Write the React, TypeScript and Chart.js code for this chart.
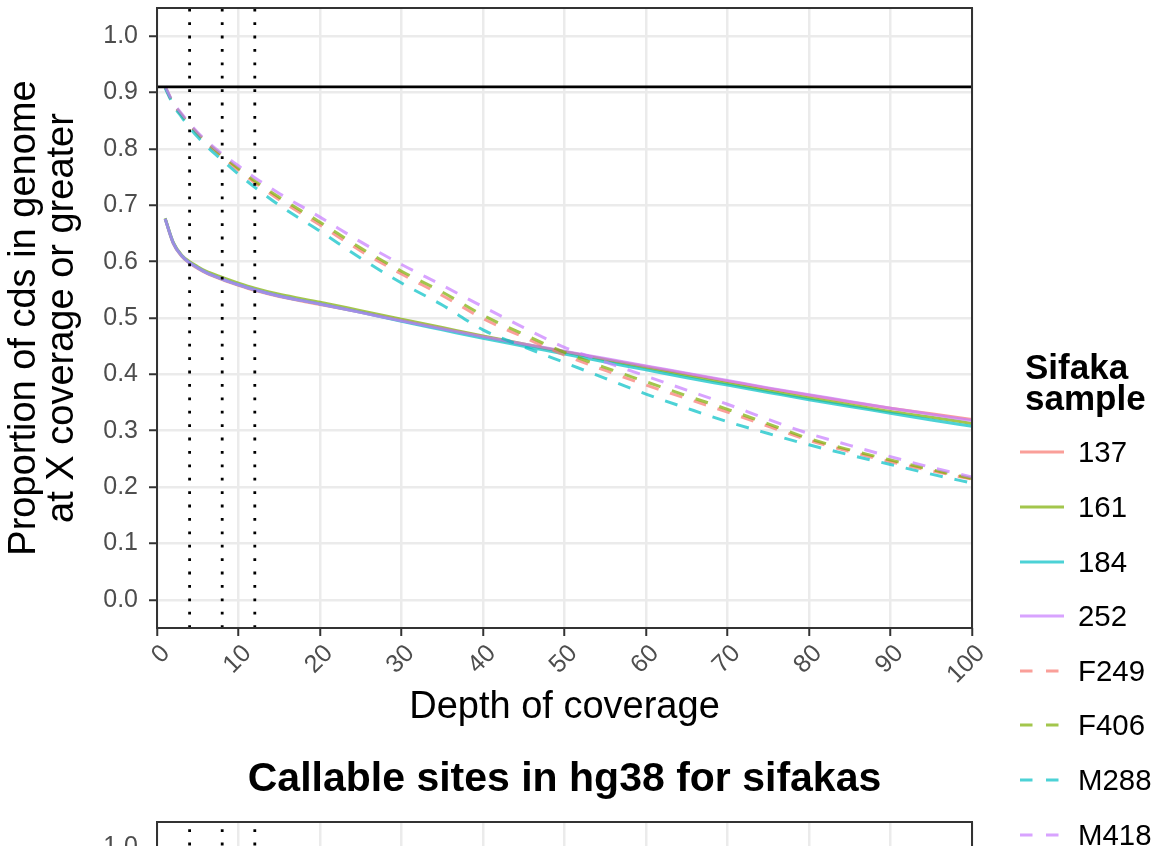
import React, { useEffect, useRef } from "react";
import { Chart, registerables } from "chart.js";

Chart.register(...registerables);

const FONT = "'Liberation Sans', Arial, Helvetica, sans-serif";

// ---- data ----
const depth = [1, 2, 3, 4, 5, 6, 8, 10, 12, 15, 20, 25, 30, 35, 40, 45, 50, 55, 60, 65, 70, 75, 80, 85, 90, 95, 100];

const s137 = [0.676, 0.632, 0.61, 0.597, 0.588, 0.58, 0.568, 0.558, 0.549, 0.538, 0.524, 0.51, 0.495, 0.481, 0.467, 0.453, 0.44, 0.427, 0.414, 0.401, 0.388, 0.375, 0.363, 0.351, 0.34, 0.33, 0.32];
const s161 = [0.677, 0.634, 0.612, 0.6, 0.591, 0.583, 0.572, 0.562, 0.553, 0.542, 0.528, 0.513, 0.498, 0.483, 0.468, 0.454, 0.44, 0.426, 0.412, 0.398, 0.384, 0.371, 0.358, 0.346, 0.334, 0.324, 0.313];
const s184 = [0.676, 0.633, 0.611, 0.598, 0.589, 0.581, 0.569, 0.559, 0.55, 0.539, 0.525, 0.51, 0.494, 0.479, 0.464, 0.45, 0.436, 0.422, 0.408, 0.394, 0.381, 0.368, 0.355, 0.343, 0.331, 0.319, 0.308];
const s252 = [0.676, 0.633, 0.611, 0.598, 0.589, 0.581, 0.569, 0.559, 0.55, 0.539, 0.525, 0.51, 0.495, 0.481, 0.467, 0.454, 0.441, 0.428, 0.415, 0.402, 0.389, 0.376, 0.364, 0.352, 0.34, 0.329, 0.318];
const sF249 = [0.91, 0.88, 0.86, 0.842, 0.826, 0.811, 0.786, 0.762, 0.74, 0.71, 0.665, 0.619, 0.578, 0.54, 0.499, 0.466, 0.434, 0.407, 0.381, 0.357, 0.333, 0.308, 0.283, 0.263, 0.245, 0.229, 0.214];
const sF406 = [0.91, 0.881, 0.861, 0.843, 0.827, 0.813, 0.788, 0.765, 0.743, 0.714, 0.67, 0.624, 0.583, 0.546, 0.505, 0.471, 0.439, 0.412, 0.387, 0.362, 0.338, 0.312, 0.286, 0.266, 0.248, 0.231, 0.215];
const sM288 = [0.908, 0.878, 0.857, 0.838, 0.821, 0.806, 0.78, 0.755, 0.732, 0.7, 0.654, 0.606, 0.562, 0.523, 0.479, 0.449, 0.421, 0.393, 0.365, 0.34, 0.316, 0.295, 0.275, 0.257, 0.24, 0.223, 0.207];
const sM418 = [0.911, 0.882, 0.863, 0.845, 0.829, 0.815, 0.791, 0.77, 0.749, 0.721, 0.679, 0.635, 0.595, 0.558, 0.52, 0.483, 0.448, 0.422, 0.397, 0.372, 0.347, 0.32, 0.295, 0.274, 0.254, 0.235, 0.218];

const sampleNames = ["137", "161", "184", "252", "F249", "F406", "M288", "M418"];
const sampleValues = [s137, s161, s184, s252, sF249, sF406, sM288, sM418];
const sampleDashed = [false, false, false, false, true, true, true, true];
const sampleColors = [
  "rgba(248,118,109,0.7)",
  "rgba(124,174,0,0.7)",
  "rgba(0,191,196,0.7)",
  "rgba(199,124,255,0.7)",
  "rgba(248,118,109,0.7)",
  "rgba(124,174,0,0.7)",
  "rgba(0,191,196,0.7)",
  "rgba(199,124,255,0.7)",
];

const xTickValues = [0, 10, 20, 30, 40, 50, 60, 70, 80, 90, 100];
const yTickValues = [0, 0.1, 0.2, 0.3, 0.4, 0.5, 0.6, 0.7, 0.8, 0.9, 1.0];
const xRange = [0, 100];
const yRange = [-0.05, 1.05];
const coverageCutoffs = [4, 8, 12];
const callableLevel = 0.91;

const yTitleLines = ["Proportion of cds in genome", "at X coverage or greater"];
const xTitleText = "Depth of coverage";
const lowerTitle = "Callable sites in hg38 for sifakas";
const legendTitle = ["Sifaka", "sample"];

// ---- helpers ----
function buildDatasets(includeSamples: boolean) {
  const ds: any[] = [];
  if (includeSamples) {
    sampleNames.forEach((name, i) => {
      ds.push({
        label: name,
        data: depth.map((d, j) => ({ x: d, y: sampleValues[i][j] })),
        borderColor: sampleColors[i],
        borderWidth: 3,
        borderDash: sampleDashed[i] ? [13, 12] : [],
        pointRadius: 0,
        cubicInterpolationMode: "monotone",
        fill: false,
      });
    });
  }
  ds.push({
    label: "callable",
    data: xRange.map((x) => ({ x, y: callableLevel })),
    borderColor: "#000000",
    borderWidth: 2.6,
    pointRadius: 0,
    fill: false,
  });
  coverageCutoffs.forEach((c) => {
    ds.push({
      label: "cutoff " + c,
      data: yRange.map((y) => ({ x: c, y })),
      borderColor: "#000000",
      borderWidth: 2.8,
      borderDash: [2.8, 10.6],
      pointRadius: 0,
      fill: false,
    });
  });
  const n = ds.length;
  ds.forEach((d, i) => (d.order = n - i));
  return ds;
}

const panelBorder = {
  id: "panelBorder",
  afterDatasetsDraw(chart: any) {
    const { ctx, chartArea } = chart;
    const { left, top, right, bottom } = chartArea;
    ctx.save();
    ctx.strokeStyle = "#333333";
    ctx.lineWidth = 2;
    ctx.strokeRect(left, top, right - left, bottom - top);
    ctx.restore();
  },
};

function buildScales(withYTitle: boolean, withXTitle: boolean) {
  return {
    x: {
      type: "linear",
      min: xRange[0],
      max: xRange[1],
      afterBuildTicks: (s: any) => {
        s.ticks = xTickValues.map((v) => ({ value: v }));
      },
      afterFit: (s: any) => {
        s.height = 112;
        s.paddingLeft = 0;
        s.paddingRight = 0;
      },
      grid: {
        color: "#EBEBEB",
        lineWidth: 2.5,
        drawTicks: true,
        tickColor: "#333333",
        tickLength: 8,
        tickWidth: 2,
      },
      border: { display: false },
      ticks: {
        autoSkip: false,
        maxRotation: 45,
        minRotation: 45,
        padding: 3,
        labelOffset: 9,
        color: "#4D4D4D",
        font: { family: FONT, size: 25 },
        callback: (v: any) => String(v),
      },
      title: {
        display: withXTitle,
        text: xTitleText,
        color: "#000000",
        font: { family: FONT, size: 38 },
        padding: { top: 0, bottom: 10 },
      },
    },
    y: {
      type: "linear",
      min: yRange[0],
      max: yRange[1],
      afterBuildTicks: (s: any) => {
        s.ticks = yTickValues.map((v) => ({ value: v }));
      },
      afterFit: (s: any) => {
        s.width = 157;
        s.paddingTop = 0;
        s.paddingBottom = 0;
      },
      grid: {
        color: "#EBEBEB",
        lineWidth: 2.5,
        drawTicks: true,
        tickColor: "#333333",
        tickLength: 8,
        tickWidth: 2,
      },
      border: { display: false },
      ticks: {
        autoSkip: false,
        padding: 11,
        color: "#4D4D4D",
        font: { family: FONT, size: 25 },
        callback: (v: any) => Number(v).toFixed(1),
      },
      title: {
        display: withYTitle,
        text: yTitleLines,
        color: "#000000",
        font: { family: FONT, size: 38, lineHeight: 1.0 },
        padding: { top: 6, bottom: 0 },
      },
    },
  };
}

function LegendKey({ color, dashed }: { color: string; dashed: boolean }) {
  return (
    <svg width={45} height={6} style={{ display: "block" }}>
      <line
        x1={0}
        y1={3}
        x2={44}
        y2={3}
        stroke={color}
        strokeWidth={3}
        strokeDasharray={dashed ? "12.5 13.5" : undefined}
      />
    </svg>
  );
}

export default function App() {
  const topRef = useRef<HTMLCanvasElement | null>(null);
  const bottomRef = useRef<HTMLCanvasElement | null>(null);

  useEffect(() => {
    const charts: Chart[] = [];
    if (topRef.current) {
      charts.push(
        new Chart(topRef.current, {
          type: "line",
          data: { datasets: buildDatasets(true) },
          options: {
            responsive: false,
            animation: false,
            devicePixelRatio: 1,
            layout: { padding: { top: 8, left: 0, right: 185, bottom: 0 } },
            plugins: { legend: { display: false }, tooltip: { enabled: false }, title: { display: false } },
            scales: buildScales(true, true) as any,
          },
          plugins: [panelBorder],
        } as any)
      );
    }
    if (bottomRef.current) {
      charts.push(
        new Chart(bottomRef.current, {
          type: "line",
          data: { datasets: buildDatasets(false) },
          options: {
            responsive: false,
            animation: false,
            devicePixelRatio: 1,
            layout: { padding: { top: 0, left: 0, right: 185, bottom: 0 } },
            plugins: {
              legend: { display: false },
              tooltip: { enabled: false },
              title: {
                display: true,
                text: lowerTitle,
                fullSize: false,
                color: "#000000",
                font: { family: FONT, size: 41, weight: "bold" },
                padding: { top: 15.4, bottom: 17.4 },
              },
            },
            scales: buildScales(false, true) as any,
          },
          plugins: [panelBorder],
        } as any)
      );
    }
    return () => charts.forEach((c) => c.destroy());
  }, []);

  const rowStart = 452.3;
  const rowStep = 54.6;

  return (
    <div
      style={{
        position: "absolute",
        left: 0,
        top: 0,
        width: 1157,
        height: 846,
        overflow: "hidden",
        background: "#ffffff",
        fontFamily: FONT,
      }}
    >
      <canvas
        ref={topRef}
        width={1157}
        height={740}
        style={{ position: "absolute", left: 0, top: 0, width: 1157, height: 740 }}
      />
      <canvas
        ref={bottomRef}
        width={1157}
        height={740}
        style={{ position: "absolute", left: 0, top: 740, width: 1157, height: 740 }}
      />
      <div
        style={{
          position: "absolute",
          left: 1025,
          top: 351,
          fontWeight: "bold",
          fontSize: 35,
          lineHeight: "31px",
          color: "#000",
          whiteSpace: "nowrap",
        }}
      >
        {legendTitle[0]}
        <br />
        {legendTitle[1]}
      </div>
      {sampleNames.map((name, i) => (
        <div
          key={name}
          style={{
            position: "absolute",
            left: 1020,
            top: rowStart + i * rowStep - 20,
            height: 40,
            display: "flex",
            alignItems: "center",
            whiteSpace: "nowrap",
          }}
        >
          <LegendKey color={sampleColors[i]} dashed={sampleDashed[i]} />
          <span style={{ marginLeft: 13, fontSize: 29.4, color: "#000", lineHeight: "40px" }}>{name}</span>
        </div>
      ))}
    </div>
  );
}
